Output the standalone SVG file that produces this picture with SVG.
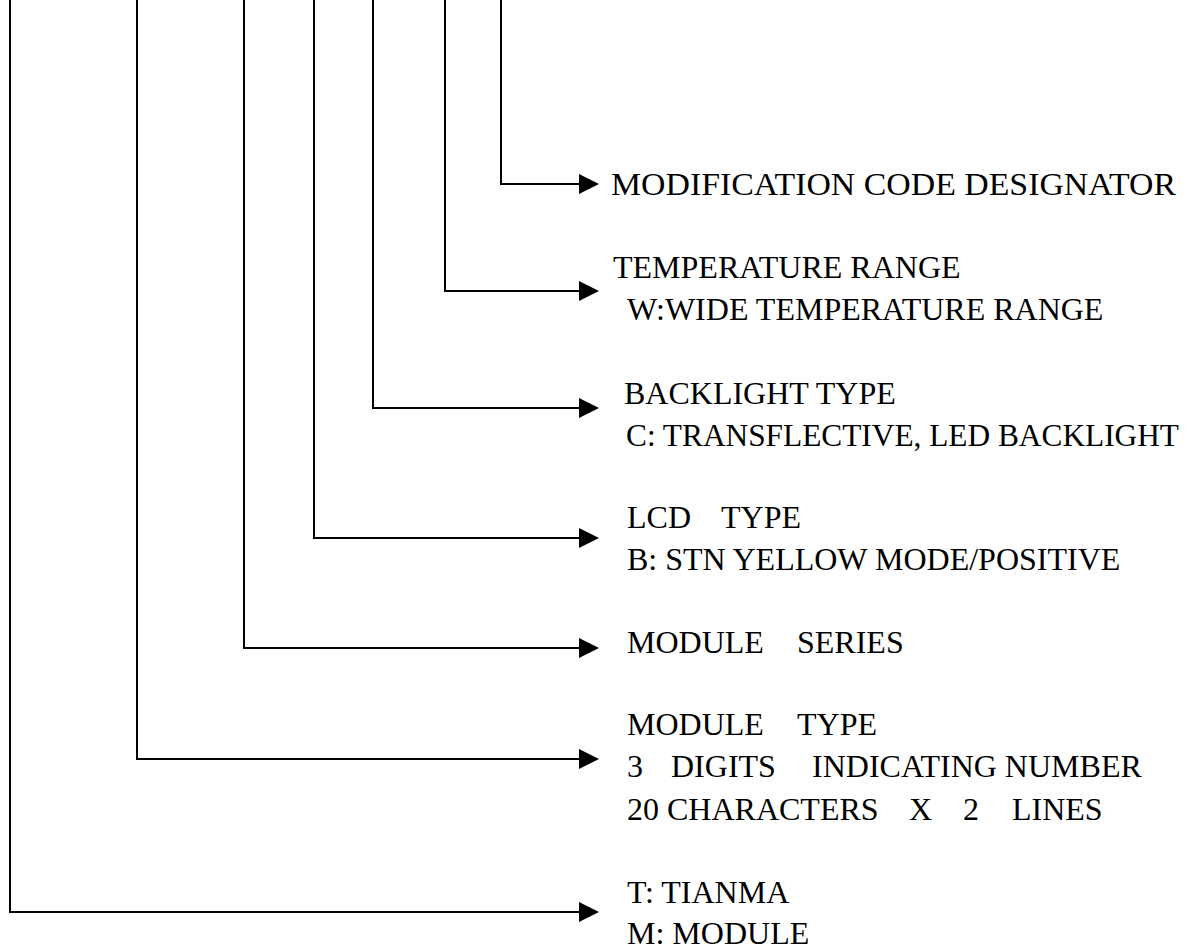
<svg xmlns="http://www.w3.org/2000/svg" width="1191" height="951" viewBox="0 0 1191 951">
<style>
.c{fill:none;stroke:#000;stroke-width:2;marker-end:url(#ah)}
text{font-family:"Liberation Serif","Times New Roman",serif;font-size:32px;fill:#000}
</style>
<defs>
<marker id="ah" viewBox="0 0 20 20" refX="6" refY="10" markerWidth="20" markerHeight="20" markerUnits="userSpaceOnUse" orient="auto">
<path d="M0,0 L20,10 L0,20 z" fill="#000"/>
</marker>
</defs>
<rect width="1191" height="951" fill="#fff"/>
<g id="connectors">
<path class="c" d="M501,0 V184 H585"/>
<path class="c" d="M445,0 V291 H585"/>
<path class="c" d="M373,0 V408 H585"/>
<path class="c" d="M314,0 V538 H585"/>
<path class="c" d="M244,0 V648 H585"/>
<path class="c" d="M137,0 V759 H585"/>
<path class="c" d="M10,0 V912 H585"/>
</g>
<g id="n-modification"><text x="611" y="195" textLength="565" lengthAdjust="spacingAndGlyphs">MODIFICATION CODE DESIGNATOR</text></g>
<g id="n-temperature"><text x="613" y="278">TEMPERATURE RANGE</text><text x="627" y="320">W:WIDE TEMPERATURE RANGE</text></g>
<g id="n-backlight"><text x="624" y="404">BACKLIGHT TYPE</text><text x="626" y="446" textLength="553" lengthAdjust="spacingAndGlyphs">C: TRANSFLECTIVE, LED BACKLIGHT</text></g>
<g id="n-lcd"><text x="627" y="528">LCD</text><text x="721" y="528">TYPE</text><text x="627" y="570">B: STN YELLOW MODE/POSITIVE</text></g>
<g id="n-series"><text x="627" y="653">MODULE</text><text x="797" y="653">SERIES</text></g>
<g id="n-type"><text x="627" y="735">MODULE</text><text x="797" y="735">TYPE</text><text x="627" y="777">3</text><text x="671" y="777">DIGITS</text><text x="812" y="777">INDICATING NUMBER</text><text x="627" y="820">20 CHARACTERS</text><text x="909" y="820">X</text><text x="963" y="820">2</text><text x="1012" y="820">LINES</text></g>
<g id="n-tianma"><text x="627" y="903">T: TIANMA</text><text x="627" y="944">M: MODULE</text></g>
</svg>
